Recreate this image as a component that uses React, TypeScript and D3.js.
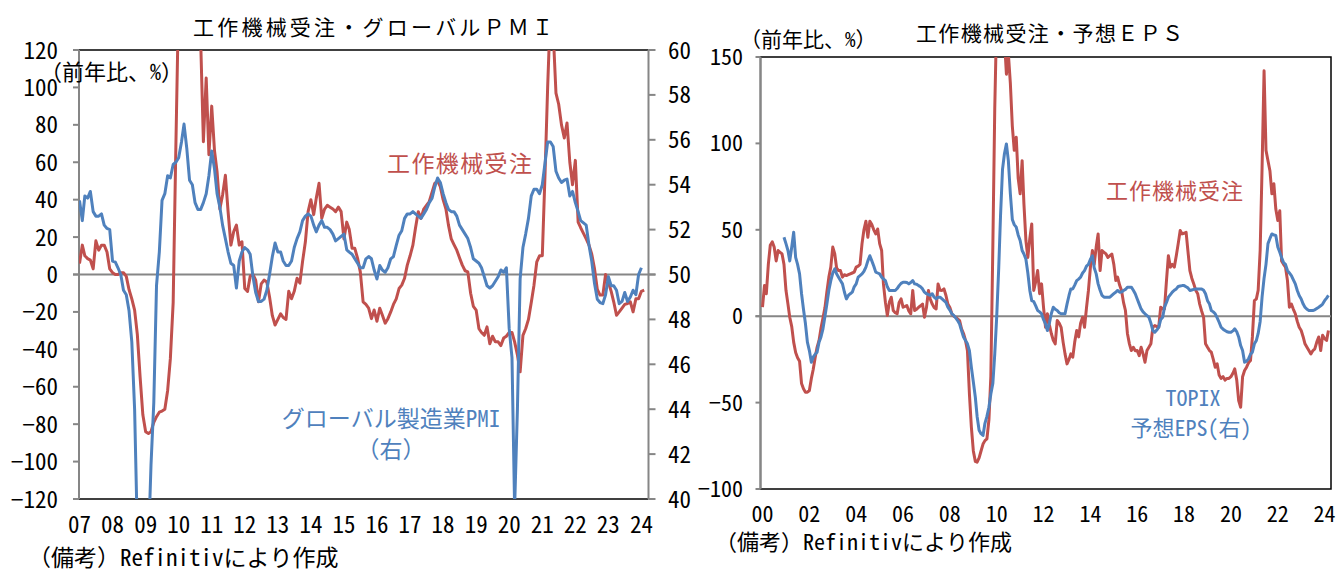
import React from "react";
import * as d3 from "d3";

// ---------- DATA ----------
// Left chart: monthly, starting 2007-01
const leftStart: [number, number] = [2007, 1];
// 工作機械受注 (前年比, %)
const toolOrdersLeft: number[] = [
  5.9, 15.7, 10, 8.5, 7.7, 3, 18, 13, 15.7, 15.7, 12, 3,
  1, 0, 0, 1, 1, -1, -8, -13, -19, -32, -55, -75,
  -84, -85, -84, -79, -76, -73.6, -73, -72, -62, -45, -15, 69,
  150, 200, 240, 260, 230, 200, 180, 150, 125, 71, 105, 64,
  90, 66, 55, 35, 42.5, 53, 33.6, 15.7, 23, 26.4, 15.7, 17.5,
  -7.5, -9, -1, 0, -3, -14.6, -5, -3, -4, -12, -22, -27,
  -24, -21, -23, -24, -9, -13, -9, -2, -4.6, 7, 17.5, 33.6,
  40, 32, 40.7, 48.75, 30, 35, 37, 36, 35, 33.6, 36, 33.6,
  19, 28, 24, 14, 14, 8.6, 1.4, -14.6, -16, -18, -23.6, -19,
  -25, -18, -21.8, -26, -23.6, -20, -16, -13, -7.5, -5.7, -2, 5,
  10, 15.7, 24.6, 33.6, 30, 35, 37, 39, 44, 48.75, 50, 47,
  40, 35, 26.4, 19, 16, 13, 9, 5, 2, 1.4, -10, -17,
  -19, -29, -31, -32.5, -28, -37, -33, -36, -36, -38, -34, -33,
  -31, -31, -36, -43, -52, -32.5, -29, -24, -15, -5.7, 6.8, 10,
  10, 55, 100, 142, 130, 97, 91, 80, 73, 81, 60, 48,
  61, 28, 25, 22, 19, 15.7, 11, 3, -8, -11, -11, 0,
  -4, -9, -14.6, -21.8, -20, -18, -16, -15.5, -14.6, -20, -13, -13,
  -9, -8.4,
];
// グローバル製造業PMI (右軸)
const globalPmi: number[] = [
  53.3, 52.4, 53.5, 53.4, 53.7, 52.8, 52.6, 52.6, 52.7, 52.2, 52.05, 52.0,
  50.6, 50.55, 50.3, 50.0, 49.3, 49.1, 48.4, 47.0, 44.0, 38.5, 34.5, 33.5,
  35.0, 38.0, 41.5, 44.3, 49.5, 51.0, 53.3, 53.6, 54.4, 54.3, 54.9, 55.0,
  55.2, 55.9, 56.7, 55.6, 54.2, 54.0, 53.2, 52.9, 52.9, 53.2, 53.6, 54.4,
  55.5, 54.7, 53.6, 53.0, 52.2, 51.6, 51.0, 50.5, 50.4, 49.4, 50.6, 51.0,
  51.2, 51.1, 50.9, 49.9, 49.2, 48.8, 48.8, 48.9, 49.3, 50.0, 50.8, 51.4,
  51.0, 51.0, 50.6, 50.4, 50.4, 50.6, 51.2, 51.6, 51.9, 52.4, 52.6, 52.7,
  52.6, 52.2, 51.9, 52.2, 52.4, 52.1, 52.1, 52.0, 51.8, 51.5, 51.6, 51.7,
  51.8, 51.1, 51.0, 50.9, 50.7, 50.5, 50.3, 50.3, 50.7, 50.8, 50.7, 50.2,
  49.8, 50.4, 50.2, 50.1, 50.3, 50.7, 50.8, 51.3, 51.75, 51.95, 52.5, 52.7,
  52.7, 52.8, 52.7, 52.6, 52.5, 52.7, 52.9, 53.2, 53.4, 53.9, 54.3, 54.1,
  53.6, 53.2, 52.9, 52.8, 52.8, 52.6, 52.2, 52.0, 51.8, 51.6, 51.2, 50.7,
  50.6, 50.5, 50.3, 49.9, 49.5, 49.4, 49.5, 49.7, 49.9, 50.2, 50.1, 50.3,
  47.6, 46.3, 39.6, 44.0, 49.8, 51.2, 51.8, 52.5, 53.5, 53.8, 53.8, 53.6,
  54.0, 55.0, 55.9, 55.9, 55.7, 54.6, 54.3, 54.1, 54.2, 54.25, 53.5, 53.7,
  53.2, 52.8, 52.4, 52.3, 52.2, 51.3, 50.6, 49.6, 48.9, 48.75, 48.7, 49.1,
  49.9, 49.5, 49.5, 49.3, 48.7, 48.8, 49.2, 48.8, 49.0, 49.3, 49.1, 50.0,
  50.3,
];

// Right chart: monthly, starting 2000-01
const rightStart: [number, number] = [2000, 1];
const toolOrdersRight: number[] = [
  5.2, 17.7, 13, 30, 41, 43, 40, 32, 38, 37, 36, 30,
  15, 7, -0.6, -6, -15, -21, -24, -26, -39, -42, -44, -44,
  -43, -36, -31, -24, -18, -14, -7, -1, 5, 14, 22.6, 28.4,
  40, 36, 28, 26.4, 26.4, 22.6, 24, 23.5, 24, 24.5, 25, 25.5,
  28.4, 29, 30, 42, 50, 55, 45.7, 55, 53, 50, 47.6, 50.5,
  42, 38, 18.7, 8, 0.4, 8, 11, 3.3, 2, 1.4, 8, 10,
  5.2, 5.7, 6.2, 3, 1.4, 14.9, 3.3, 4, 5.2, 6, 7, -0.6,
  5, 14.9, 10, 7, 5, 4.2, 18.7, 15, 14.9, 15.8, 12, 7,
  5, 1.4, 0, -0.6, -1.5, -2.5, -7.3, -10, -14, -20, -45, -64,
  -78, -84, -84.5, -82, -78, -74, -72, -71, -60, -35, 40, 120,
  175, 220, 240, 200, 160, 140, 152, 135, 110, 96, 103.6, 80,
  70.8, 90, 65, 43.8, 34, 45, 53.4, 14.9, 20, 26.4, 13, 18.7,
  5, -6.4, 1.4, -5, -10, -14, -16, -2.5, -4, -6.4, -15, -21.8,
  -27.6, -25, -21.8, -23.7, -15, -8.3, -12, -4, -0.6, -6.4, 5, 14.9,
  28.4, 38, 30, 40, 47.6, 26.4, 38, 37, 36, 34, 35, 36,
  30, 20.6, 22.6, 18, 14.9, 8, 3.3, -10, -16, -19.9, -18, -20,
  -19.9, -22.8, -18, -21.8, -26.6, -19.9, -18, -16, -6.4, -5.4, -6, -6.4,
  5.2, 4.2, 4.2, 20.6, 35, 28.4, 30, 28.4, 35, 42, 49.6, 47.6,
  48, 48.6, 38, 26.4, 22, 18.7, 15, 13, 7, 3, -0.6, -16,
  -18, -19.9, -20.8, -25, -29.5, -27.6, -34, -36, -35, -37, -36, -36,
  -35, -33, -30.5, -37, -48.8, -52.7, -35, -31.4, -29.5, -27, -25.7, -12,
  9, 10, 15, 38, 86, 142, 96, 90, 84, 70.8, 76.6, 62,
  55.4, 61, 32, 30, 28.4, 20.6, 5.2, 7, 4, 1.4, -3, -6.4,
  -8.3, -12, -16, -18, -19.9, -21.8, -20, -18.9, -15, -12, -19.9, -11,
  -13, -14, -8.3,
];
// TOPIX 予想EPS (右軸, 軸表示なし) starting 2000-12
const epsStart: [number, number] = [2000, 12];
const topixEps: number[] = [
  45.7,
  42, 38, 32, 40, 48.6, 34, 30, 24.5, 13, 4, -4.4, -15,
  -19.9, -26.6, -23.7, -22, -20.8, -15, -12, -7.3, 0, 7, 15, 20.6,
  25, 27.4, 24.5, 22.5, 20.6, 18.7, 14, 10, 12, 13, 13.9, 17,
  18.7, 22.6, 23.5, 24.5, 26, 28.4, 32, 35, 32, 29, 25.5, 25,
  24.5, 22.6, 21.5, 20.6, 17, 14.9, 14.9, 14.9, 14.9, 16, 17.7, 19,
  19.7, 19.7, 19.5, 18.7, 19.5, 20.6, 18.7, 18.5, 17.7, 17, 15.8, 13.9,
  13, 12.5, 12, 13, 11, 10, 11, 11, 10, 9, 8, 5.2,
  3.5, 1.4, 0.5, -1, -2.5, -4.5, -8.3, -12, -14, -16, -20, -29.5,
  -38, -46.9, -58, -66, -68, -69, -62, -58, -52.7, -45, -39, -22,
  0, 28, 58, 85, 94, 99.7, 90, 71, 56, 53, 51.5, 47,
  43.8, 38, 36, 33, 25, 14.9, 9, 8.5, 6, 3.3, 2.5, 1.4,
  -2, -4.4, -8.3, -4, 1.4, 5.2, 4, 3.3, 2, 1.4, 1.4, 1.4,
  7, 12, 15.8, 15.8, 18, 20.6, 21.5, 22.6, 25, 26.4, 29, 30,
  33, 35, 28, 24.5, 18.7, 15, 12, 11, 11, 11, 11, 12,
  13, 14, 14.9, 13.9, 14, 14.9, 15.5, 16.8, 16.8, 16.8, 15, 13,
  10, 7, 4.2, 2.5, 1.4, 0.4, -0.6, -4, -8.3, -9.3, -8, -6.4,
  -2, -0.6, 5.2, 8, 11, 12.5, 13.9, 15, 15.8, 17.2, 17.5, 17.7,
  17.7, 17, 16.4, 14.9, 15.2, 15.5, 15.8, 15.8, 15.8, 15.8, 15, 13,
  9, 7, 3.3, 2.5, 1.4, -1, -3.5, -6.4, -7.5, -8.3, -9, -9.3,
  -9.3, -8.5, -7.3, -9, -12, -17, -19.9, -26.6, -26, -24.7, -22, -20.8,
  -16, -14, -10, -3, 11, 22, 30, 42, 45, 47.6, 47, 46.7,
  40, 37, 34, 31, 30, 26.4, 25, 23.5, 21, 18.7, 14.9, 12,
  10, 7, 5.2, 4, 3.3, 3.3, 3.3, 3.7, 4.5, 5.2, 6, 7,
  9, 10.5, 12,
];

const leftYTicks = [120, 100, 80, 60, 40, 20, 0, -20, -40, -60, -80, -100, -120];
const leftY2Ticks = [60, 58, 56, 54, 52, 50, 48, 46, 44, 42, 40];
const leftYears = d3.range(2007, 2025);
const rightYTicks = [150, 100, 50, 0, -50, -100];
const rightYears = d3.range(2000, 2025, 2);

// ---------- HELPERS ----------
type Pt = { date: Date; value: number };
const toSeries = (start: [number, number], vals: number[]): Pt[] =>
  vals.map((v, i) => ({ date: new Date(start[0], start[1] - 1 + i, 1), value: v }));

const RED = "#C0504D";
const BLUE = "#4F81BD";
const AXIS = "#868686";
const FONT = "'Noto Sans Mono CJK JP', 'Noto Sans CJK JP', sans-serif";
const fmtNum = (v: number) => (v < 0 ? "\u2212" + Math.abs(v) : String(v));

// ---------- LEFT CHART ----------
const L = { x0: 79, x1: 648.5, y0: 50, y1: 499 };
const lx = d3.scaleTime().domain([new Date(2007, 0, 1), new Date(2024, 0, 1)]).range([79.5, 641.4]);
const ly = d3.scaleLinear().domain([-120, 120]).range([L.y1, L.y0]);
const ly2 = d3.scaleLinear().domain([40, 60]).range([L.y1, L.y0]);

// ---------- RIGHT CHART ----------
const R = { x0: 760.5, x1: 1331, y0: 57, y1: 489 };
const rx = d3.scaleTime().domain([new Date(2000, 0, 1), new Date(2024, 0, 1)]).range([762.5, 1324.6]);
const ry = d3.scaleLinear().domain([-100, 150]).range([R.y1, R.y0]);
const ry2 = d3.scaleLinear().domain([-100, 150]).range([R.y1, R.y0]);

export default function App() {
  const ordersL = toSeries(leftStart, toolOrdersLeft);
  const pmiL = toSeries(leftStart, globalPmi);
  const ordersR = toSeries(rightStart, toolOrdersRight);
  const epsR = toSeries(epsStart, topixEps);

  const lineL1 = d3.line<Pt>().x((d) => lx(d.date)).y((d) => ly(d.value));
  const lineL2 = d3.line<Pt>().x((d) => lx(d.date)).y((d) => ly2(d.value));
  const lineR1 = d3.line<Pt>().x((d) => rx(d.date)).y((d) => ry(d.value));
  const lineR2 = d3.line<Pt>().x((d) => rx(d.date)).y((d) => ry2(d.value));

  return (
    <svg
      width={1340}
      height={574}
      style={{ position: "absolute", left: 0, top: 0, background: "#fff" }}
      fontFamily={FONT}
    >
      <defs>
        <clipPath id="clipL">
          <rect x={L.x0} y={L.y0} width={L.x1 - L.x0} height={L.y1 - L.y0} />
        </clipPath>
        <clipPath id="clipR">
          <rect x={R.x0} y={R.y0} width={R.x1 - R.x0} height={R.y1 - R.y0} />
        </clipPath>
      </defs>
      <rect x={0} y={0} width={1340} height={574} fill="#fff" />

      {/* ===== LEFT CHART ===== */}
      <text x={193} y={35} fontSize={21} textLength={360} lengthAdjust="spacing" fill="#000">
        工作機械受注・グローバルＰＭＩ
      </text>
      {/* axes */}
      <line x1={L.x0} x2={L.x1} y1={L.y0} y2={L.y0} stroke="#000" strokeWidth={1.5} />
      <line x1={L.x0} x2={L.x1} y1={L.y1} y2={L.y1} stroke="#000" strokeWidth={1.5} />
      <line x1={L.x0} x2={L.x0} y1={L.y0} y2={L.y1} stroke={AXIS} strokeWidth={2} />
      <line x1={L.x1} x2={L.x1} y1={L.y0} y2={L.y1} stroke={AXIS} strokeWidth={2} />
      <line x1={L.x0 - 6} x2={L.x1 + 7} y1={ly(0)} y2={ly(0)} stroke={AXIS} strokeWidth={2} />
      {leftYTicks.map((t) => (
        <g key={"ly" + t}>
          <line x1={L.x0 - 6} x2={L.x0} y1={ly(t)} y2={ly(t)} stroke={AXIS} strokeWidth={2} />
          <text x={58} y={ly(t) + 8.5} fontSize={23} textAnchor="end" fill="#000">
            {fmtNum(t)}
          </text>
        </g>
      ))}
      {leftY2Ticks.map((t) => (
        <g key={"ly2" + t}>
          <line x1={L.x1} x2={L.x1 + 7} y1={ly2(t)} y2={ly2(t)} stroke={AXIS} strokeWidth={2} />
          <text x={668} y={ly2(t) + 8.5} fontSize={23} textAnchor="start" fill="#000">
            {t}
          </text>
        </g>
      ))}
      {leftYears.map((yr) => (
        <text key={"lx" + yr} x={lx(new Date(yr, 0, 1))} y={533} fontSize={23} textAnchor="middle" fill="#000">
          {d3.timeFormat("%y")(new Date(yr, 0, 1))}
        </text>
      ))}
      <g clipPath="url(#clipL)">
        <path d={lineL1(ordersL) || ""} fill="none" stroke={RED} strokeWidth={3} strokeLinejoin="round" />
        <path d={lineL2(pmiL) || ""} fill="none" stroke={BLUE} strokeWidth={3} strokeLinejoin="round" />
      </g>
      <text x={40} y={80} fontSize={22} fill="#000">（前年比、%）</text>
      <text x={387} y={172} fontSize={23} textLength={145} lengthAdjust="spacing" fill={RED}>
        工作機械受注
      </text>
      <text x={391} y={427} fontSize={23} textAnchor="middle" fill={BLUE}>
        グローバル製造業PMI
      </text>
      <text x={391} y={458} fontSize={23} textAnchor="middle" fill={BLUE}>
        （右）
      </text>
      <text x={28} y={566} fontSize={23} fill="#000">（備考）Refinitivにより作成</text>

      {/* ===== RIGHT CHART ===== */}
      <text x={916} y={41} fontSize={21} textLength={267} lengthAdjust="spacing" fill="#000">
        工作機械受注・予想ＥＰＳ
      </text>
      <text x={740} y={47} fontSize={21} fill="#000">（前年比、%）</text>
      <rect x={R.x0} y={R.y0} width={R.x1 - R.x0} height={R.y1 - R.y0} fill="none" stroke="#000" strokeWidth={1.5} />
      <line x1={R.x0} x2={R.x0} y1={R.y0} y2={R.y1} stroke={AXIS} strokeWidth={2} />
      <line x1={R.x0 - 5} x2={R.x1} y1={ry(0)} y2={ry(0)} stroke={AXIS} strokeWidth={2} />
      {rightYTicks.map((t) => (
        <g key={"ry" + t}>
          <line x1={R.x0 - 5} x2={R.x0} y1={ry(t)} y2={ry(t)} stroke={AXIS} strokeWidth={2} />
          <text x={743} y={ry(t) + 8} fontSize={22} textAnchor="end" fill="#000">
            {fmtNum(t)}
          </text>
        </g>
      ))}
      {rightYears.map((yr) => (
        <text key={"rx" + yr} x={rx(new Date(yr, 0, 1))} y={522} fontSize={22} textAnchor="middle" fill="#000">
          {d3.timeFormat("%y")(new Date(yr, 0, 1))}
        </text>
      ))}
      <g clipPath="url(#clipR)">
        <path d={lineR1(ordersR) || ""} fill="none" stroke={RED} strokeWidth={3} strokeLinejoin="round" />
        <path d={lineR2(epsR) || ""} fill="none" stroke={BLUE} strokeWidth={3} strokeLinejoin="round" />
      </g>
      <text x={1106} y={199} fontSize={22} textLength={137} lengthAdjust="spacing" fill={RED}>
        工作機械受注
      </text>
      <text x={1193} y={406} fontSize={22} textAnchor="middle" fill={BLUE}>TOPIX</text>
      <text x={1191} y={436} fontSize={22} textAnchor="middle" fill={BLUE}>予想EPS(右)</text>
      <text x={715} y={550} fontSize={22} fill="#000">（備考）Refinitivにより作成</text>
    </svg>
  );
}
